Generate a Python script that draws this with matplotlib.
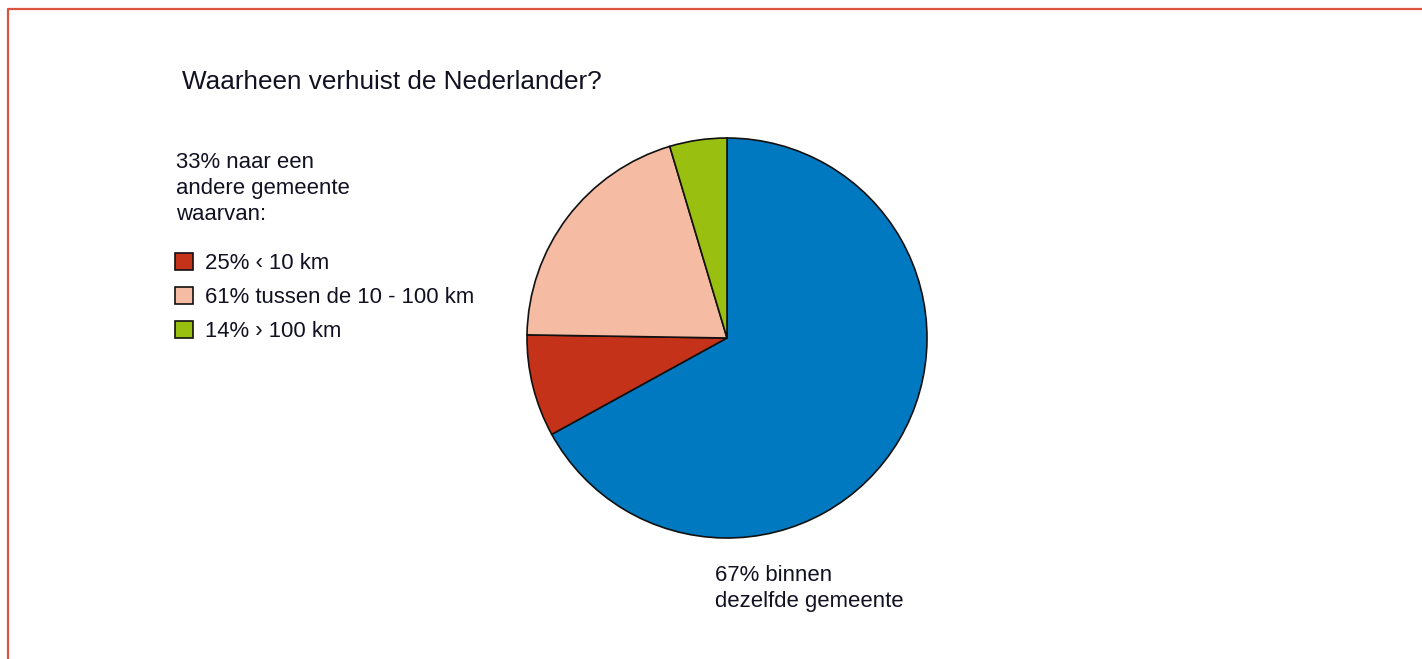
import matplotlib.pyplot as plt
from matplotlib.lines import Line2D

plt.rcParams['font.family'] = ['Liberation Sans', 'DejaVu Sans']

# data
shares = [67, 33 * 0.25, 33 * 0.61, 33 * 0.14]
colors = ['#0079C1', '#C4321A', '#F6BCA3', '#99BF10']
legend_labels = ['25% \u2039 10 km', '61% tussen de 10 - 100 km', '14% \u203a 100 km']

W, H = 1422, 659
fig = plt.figure(figsize=(W / 100, H / 100), dpi=100)

# pie, placed in pixels: center (727, 338), radius 200
ax = fig.add_axes([527 / W, 1 - 538 / H, 400 / W, 400 / H])
wedges, _ = ax.pie(shares, colors=colors, startangle=90, counterclock=False,
                   radius=1, wedgeprops=dict(edgecolor='#111111', linewidth=1.2))
ax.set_xlim(-1, 1)
ax.set_ylim(-1, 1)
ax.set_aspect('auto')
ax.axis('off')

txt = '#111122'
fs = 15.9
fig.text(182 / W, 1 - 82 / H, 'Waarheen verhuist de Nederlander?',
         fontsize=18.8, color=txt, va='center', ha='left')
fig.text(176 / W, 1 - 152 / H, '33% naar een\nandere gemeente\nwaarvan:',
         fontsize=fs, color=txt, va='top', ha='left', linespacing=1.3)
fig.text(715 / W, 1 - 565 / H, '67% binnen\ndezelfde gemeente',
         fontsize=fs, color=txt, va='top', ha='left', linespacing=1.3)

fig.legend(handles=wedges[1:], labels=legend_labels, loc='upper left',
           bbox_to_anchor=(175 / W, 1 - 253 / H), frameon=False, borderpad=0,
           borderaxespad=0, fontsize=fs, handlelength=0.8, handleheight=0.8,
           handletextpad=0.55, labelspacing=0.58, labelcolor=txt)

# red frame on top and left
fig.add_artist(Line2D([8 / W, 8 / W, 1], [0, 1 - 9 / H, 1 - 9 / H],
                      color='#D9553F', linewidth=1.6))

fig.savefig('out.png', dpi=100, facecolor='white')
